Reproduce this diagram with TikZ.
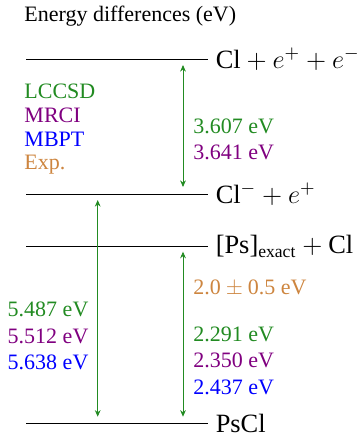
\documentclass[tikz,border=0pt]{standalone}
\usepackage{amsmath}
\usepackage{fontspec}
\setmainfont{Liberation Serif}
\usetikzlibrary{arrows.meta}
\definecolor{lccsd}{RGB}{34,139,34}
\definecolor{mrci}{RGB}{128,0,128}
\definecolor{mbpt}{RGB}{0,0,255}
\definecolor{expt}{RGB}{205,133,63}

\begin{document}
\begin{tikzpicture}[x=0.4545pt,y=-0.4545pt,
  gap/.style={lccsd,{Stealth[length=3pt,width=2.6pt]}-{Stealth[length=3pt,width=2.6pt]}},
  val/.style={anchor=base west,inner sep=0pt},
  state/.style={right,font=\large}]
\useasboundingbox (0,0) rectangle (363,439);
% Title
\node[val] (title) at (24,21.5) {Energy differences (eV)};
% Draw levels
\coordinate (ion-l) at (26,59);
\coordinate (ion-r) at (208,59);
\coordinate (neg-l) at (26,194);
\coordinate (neg-r) at (208,194);
\coordinate (ps-l) at (26,246);
\coordinate (ps-r) at (208,246);
\coordinate (pscl-l) at (26,423);
\coordinate (pscl-r) at (208,423);
\draw (ion-l) -- (ion-r) node[state] (ion) {Cl${}+e^{+}+e^{-}$};
\draw (neg-l) -- (neg-r) node[state] (neg) {Cl$^{-}+e^{+}$};
\draw (ps-l) -- (ps-r) node[state] (ps) {[Ps]$_\text{exact}+{}$Cl};
\draw (pscl-l) -- (pscl-r) node[state] (pscl) {PsCl};
% Legend
\node[val,lccsd] (leg-lccsd) at (24,98.5) {LCCSD};
\node[val,mrci] (leg-mrci) at (24,122.5) {MRCI};
\node[val,mbpt] (leg-mbpt) at (24,146) {MBPT};
\node[val,expt] (leg-exp) at (24,169.5) {Exp.};
% Draw arrows between levels
\coordinate (ea-top) at (183,65);
\coordinate (ea-bot) at (183,187);
\coordinate (tot-top) at (97.7,200);
\coordinate (tot-bot) at (97.7,416.7);
\coordinate (bind-top) at (183,251.7);
\coordinate (bind-bot) at (183,416.7);
\draw[gap] (ea-top) -- (ea-bot);
\draw[gap] (tot-top) -- (tot-bot);
\draw[gap] (bind-top) -- (bind-bot);
% Values
\node[val,lccsd] (ea-lccsd) at (193,133.3) {3.607 eV};
\node[val,mrci] (ea-mrci) at (193,159.3) {3.641 eV};
\node[val,expt] (bind-exp) at (193,294.3) {2.0${}\pm{}$0.5 eV};
\node[val,lccsd] (bind-lccsd) at (193,341) {2.291 eV};
\node[val,mrci] (bind-mrci) at (193,367.7) {2.350 eV};
\node[val,mbpt] (bind-mbpt) at (193,394.3) {2.437 eV};
\node[val,lccsd] (tot-lccsd) at (7.3,316.3) {5.487 eV};
\node[val,mrci] (tot-mrci) at (7.3,343) {5.512 eV};
\node[val,mbpt] (tot-mbpt) at (7.3,369) {5.638 eV};
\end{tikzpicture}
\end{document}
